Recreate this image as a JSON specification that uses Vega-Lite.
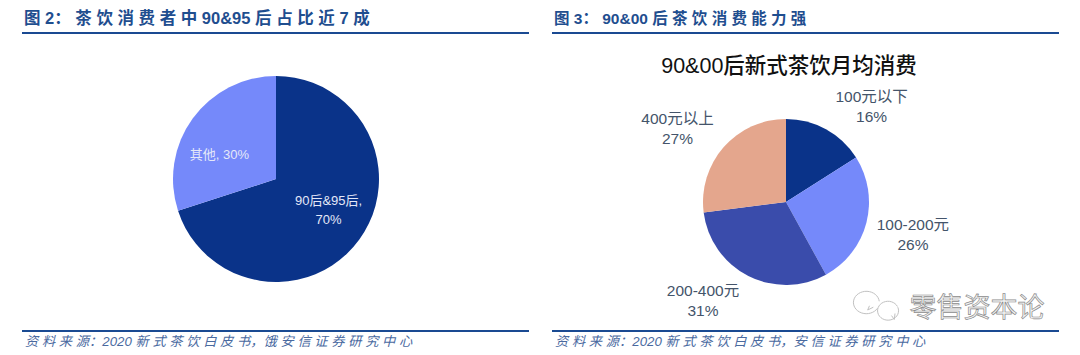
{
"$schema":"https://vega.github.io/schema/vega-lite/v6.json",
"width":1080,"height":355,"padding":0,
"autosize":{"type":"fit","contains":"padding"},
"background":"white",
"config":{"view":{"stroke":null},"font":"Liberation Sans, Noto Sans CJK SC"},
"datasets":{
"a":[{"seg":"90后&95后","share":70,"rank":1,"label":"90后&95后,\n70%"},{"seg":"其他","share":30,"rank":2,"label":"其他, 30%"}],
"b":[{"seg":"100元以下","share":16,"rank":1,"label":"100元以下\n16%"},{"seg":"100-200元","share":26,"rank":2,"label":"100-200元\n26%"},{"seg":"200-400元","share":31,"rank":3,"label":"200-400元\n31%"},{"seg":"400元以上","share":27,"rank":4,"label":"400元以上\n27%"}],
"t":[{"k":"one"}]
},
"layer":[
{"data":{"name":"a"},"mark":{"type":"arc","outerRadius":103,"x":276,"y":179},
"encoding":{"theta":{"field":"share","type":"quantitative","stack":true},"order":{"field":"rank"},
"color":{"field":"seg","type":"nominal","legend":null,"scale":{"domain":["90后&95后","其他","100元以下","100-200元","200-400元","400元以上"],"range":["#0A3389","#7589FA","#0A3389","#7589FA","#3A4CAB","#E4A68D"]}}}},
{"data":{"name":"b"},"mark":{"type":"arc","outerRadius":83,"x":786,"y":202},
"encoding":{"theta":{"field":"share","type":"quantitative","stack":true},"order":{"field":"rank"},"color":{"field":"seg","type":"nominal","legend":null}}},
{"data":{"name":"a"},"mark":{"type":"text","radius":65,"x":276,"y":179,"fontSize":13,"fill":"#E4E8F8","lineBreak":"\n","lineHeight":19,"dx":{"expr":"datum.rank==1?0:-4"},"dy":{"expr":"datum.rank==1?-16:14"}},
"encoding":{"theta":{"field":"share","type":"quantitative","stack":true},"order":{"field":"rank"},"text":{"field":"label"}}},
{"data":{"name":"b"},"mark":{"type":"text","radius":130,"x":786,"y":202,"fontSize":15.5,"fill":"#44546A","lineBreak":"\n","lineHeight":20,"dx":{"expr":"[23,1,-24,-11][datum.rank-1]"},"dy":{"expr":"[9,-9,-27,3][datum.rank-1]"}},
"encoding":{"theta":{"field":"share","type":"quantitative","stack":true},"order":{"field":"rank"},"text":{"field":"label"}}},
{"data":{"name":"t"},"mark":{"type":"rule","stroke":"#1A4A92","strokeWidth":2},"encoding":{"x":{"value":22},"x2":{"value":529},"y":{"value":33}}},
{"data":{"name":"t"},"mark":{"type":"rule","stroke":"#1A4A92","strokeWidth":2},"encoding":{"x":{"value":552},"x2":{"value":1059},"y":{"value":33}}},
{"data":{"name":"t"},"mark":{"type":"rule","stroke":"#1A4A92","strokeWidth":2},"encoding":{"x":{"value":22},"x2":{"value":529},"y":{"value":331}}},
{"data":{"name":"t"},"mark":{"type":"rule","stroke":"#1A4A92","strokeWidth":2},"encoding":{"x":{"value":552},"x2":{"value":1059},"y":{"value":331}}},
{"data":{"name":"t"},"mark":{"type":"text","x":24,"y":19,"align":"left","baseline":"middle","fontSize":16.5,"fontWeight":"bold","fill":"#1F4E8F","text":"图 2\uff1a\u00a0茶 饮 消 费 者 中 90&95 后 占 比 近 7 成"},"encoding":{}},
{"data":{"name":"t"},"mark":{"type":"text","x":554,"y":19,"align":"left","baseline":"middle","fontSize":15.5,"fontWeight":"bold","fill":"#1F4E8F","text":"图 3\uff1a\u00a090&00 后 茶 饮 消 费 能 力 强"},"encoding":{}},
{"data":{"name":"t"},"mark":{"type":"text","x":789,"y":67,"align":"center","baseline":"middle","fontSize":21.5,"fontWeight":500,"fill":"#111111","text":"90&00后新式茶饮月均消费"},"encoding":{}},
{"data":{"name":"t"},"mark":{"type":"text","x":25,"y":342,"align":"left","baseline":"middle","fontSize":13.25,"fontStyle":"italic","fill":"#4A6A9F","text":"资 料 来 源\uff1a2020 新 式 茶 饮 白 皮 书\uff0c饿 安 信 证 券 研 究 中 心"},"encoding":{}},
{"data":{"name":"t"},"mark":{"type":"text","x":555,"y":342,"align":"left","baseline":"middle","fontSize":13.25,"fontStyle":"italic","fill":"#4A6A9F","text":"资 料 来 源\uff1a2020 新 式 茶 饮 白 皮 书\uff0c安 信 证 券 研 究 中 心"},"encoding":{}},
{"data":{"name":"t"},"mark":{"type":"text","x":977,"y":309,"align":"center","baseline":"middle","fontSize":27,"fill":"#F4F4F4","stroke":"#8C8C8C","strokeWidth":0.7,"text":"零售资本论"},"encoding":{}},
{"data":{"name":"t"},"mark":{"type":"point","x":881,"y":303,"size":4900,"filled":false,"stroke":"#A8A8A8","strokeWidth":1,"shape":"M-0.1,0.15 A0.37,0.32 0 1 1 -0.05,-0.05 M-0.33,0.08 L-0.38,0.2 L-0.22,0.12 M0.48,0.12 A0.3,0.27 0 1 1 0.47,0.1 M0.3,0.36 L0.38,0.47 L0.4,0.3"},"encoding":{}}
]
}
